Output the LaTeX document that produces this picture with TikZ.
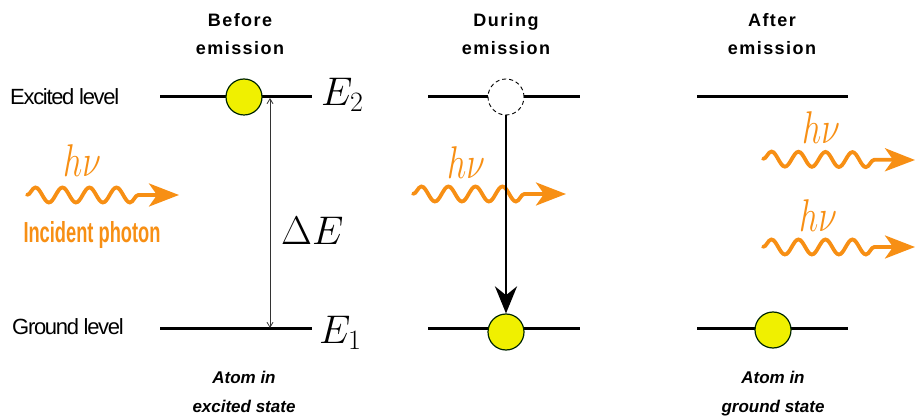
\RequirePackage{fix-cm}
\documentclass[tikz,border=0pt]{standalone}
\usepackage{fontspec}
\setsansfont{Liberation Sans}
\newfontfamily\titlefont[LetterSpace=8]{Liberation Sans}
\newfontfamily\labelfont[LetterSpace=-6]{Liberation Sans}
\newfontfamily\plainsans{Liberation Sans}
\usetikzlibrary{arrows.meta,decorations.pathmorphing}
\definecolor{photon}{RGB}{247,143,20}
\definecolor{atomfill}{RGB}{240,240,0}
\begin{document}
\begin{tikzpicture}[x=1pt,y=-1pt,
  level/.style={line width=3pt},
  atom/.style={circle, draw=black!85!green, line width=1.2pt, fill=atomfill, minimum size=36pt, inner sep=0pt},
  ghost/.style={circle, draw=black, dashed, dash pattern=on 4pt off 3pt, line width=0.9pt, fill=white, minimum size=36pt, inner sep=0pt},
  photonwave/.style={draw=photon, line width=3.8pt, line cap=round, decorate,
     decoration={snake, amplitude=7.5pt, segment length=27pt, post length=30pt},
     -{Stealth[length=30pt,width=23pt,inset=8pt]}},
  hnu/.style={text=photon, inner sep=0pt, font=\fontsize{34}{34}\selectfont},
  title/.style={align=center, anchor=north, inner sep=0pt, font=\titlefont\bfseries\fontsize{18}{28}\selectfont},
  state/.style={align=center, anchor=north, inner sep=0pt, font=\plainsans\bfseries\itshape\fontsize{17}{29}\selectfont},
  levellabel/.style={anchor=west, inner sep=0pt, font=\labelfont\fontsize{22}{22}\selectfont},
  energy/.style={anchor=base west, inner sep=0pt, font=\fontsize{40}{40}\selectfont}
]
\useasboundingbox (0,0) rectangle (915,419);

% titles
\node[title] (t1) at (240,13) {Before\\emission};
\node[title] (t2) at (506,13) {During\\emission};
\node[title] (t3) at (772,13) {After\\emission};

% level labels
\node[levellabel] (lex) at (10,97) {Excited level};
\node[levellabel] (lgr) at (12,327) {Ground level};

% level end points
\coordinate (e1a) at (160,97);  \coordinate (e1b) at (312,97);
\coordinate (e2a) at (428,97);  \coordinate (e2b) at (580,97);
\coordinate (e3a) at (697,97);  \coordinate (e3b) at (848,97);
\coordinate (g1a) at (160,329); \coordinate (g1b) at (312,329);
\coordinate (g2a) at (428,329); \coordinate (g2b) at (580,329);
\coordinate (g3a) at (697,329); \coordinate (g3b) at (848,329);
\foreach \a/\b in {e1a/e1b,e2a/e2b,e3a/e3b,g1a/g1b,g2a/g2b,g3a/g3b}
  \draw[level] (\a) -- (\b);

% energy labels
\node[energy] (E2) at (321,106) {$E_2$};
\node[energy] (E1) at (319,343) {$E_1$};
\node[energy] (dE) at (281,245) {$\Delta E$};

% Delta E arrow
\coordinate (dtop) at (270,98);
\coordinate (dbot) at (270,328);
\draw[line width=0.8pt, black!80, {Straight Barb[length=5pt,width=6pt]}-{Straight Barb[length=5pt,width=6pt]}] (dtop) -- (dbot);

% atoms
\node[atom] (a1) at (244,97) {};
\node[ghost] (a2) at (506,97) {};
\node[atom] (b2) at (506,332) {};
\node[atom] (b3) at (773,330) {};

% photons
\coordinate (p1s) at (27,195);  \coordinate (p1e) at (179,195);
\coordinate (p2s) at (413,194); \coordinate (p2e) at (566,194);
\coordinate (p3s) at (763,159); \coordinate (p3e) at (915,160);
\coordinate (p4s) at (763,247); \coordinate (p4e) at (915,247);
\draw[photonwave] (p1s) -- (p1e);
\draw[photonwave] (p2s) -- (p2e);
\draw[photonwave] (p3s) -- (p3e);
\draw[photonwave] (p4s) -- (p4e);

\node[hnu] (h1) at (82,161) {\scalebox{1}[1.35]{$h\nu$}};
\node[hnu] (h2) at (466,163) {\scalebox{1}[1.35]{$h\nu$}};
\node[hnu] (h3) at (821,128) {\scalebox{1}[1.35]{$h\nu$}};
\node[hnu] (h4) at (818,216) {\scalebox{1}[1.35]{$h\nu$}};

\node[text=photon, inner sep=0pt, font=\plainsans\bfseries\fontsize{29}{29}\selectfont] (inc) at (92,235) {\scalebox{0.63}[1]{Incident photon}};

% transition arrow
\draw[line width=2.8pt, -{Stealth[length=27pt,width=22pt]}] (a2) -- (b2);

% state captions
\node[state] (s1) at (244,371) {Atom in\\excited state};
\node[state] (s3) at (773,371) {Atom in\\ground state};
\end{tikzpicture}
\end{document}
